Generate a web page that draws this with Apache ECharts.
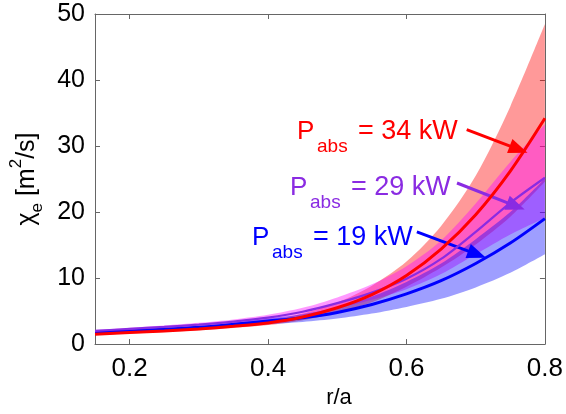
<!DOCTYPE html>
<html>
<head>
<meta charset="utf-8">
<script src="https://cdn.jsdelivr.net/npm/echarts@6/dist/echarts.min.js"></script>
<style>html,body{margin:0;padding:0;background:#fff}#c{width:566px;height:414px}</style>
</head>
<body>
<div id="c"></div>
<script>
// r/a sample positions
var xs = [0.15, 0.2, 0.25, 0.3, 0.35, 0.4, 0.45, 0.5, 0.55, 0.6, 0.65, 0.7, 0.75, 0.8];
// P_abs = 34 kW (red)
var redMid = [1.5, 1.75, 2.0, 2.3, 2.7, 3.2, 4.1, 5.5, 7.5, 10.4, 14.4, 19.6, 26.2, 34.2];
var redHi  = [1.6, 1.89, 2.16, 2.5, 2.97, 3.55, 4.63, 6.3, 8.85, 12.5, 17.9, 25.5, 36.0, 48.5];
var redLo  = [1.4, 1.62, 1.85, 2.11, 2.45, 2.88, 3.63, 4.8, 6.35, 8.7, 11.6, 15.1, 19.3, 24.6];
// P_abs = 29 kW (purple)
var purMid = [2.0, 2.3, 2.6, 2.95, 3.4, 4.0, 4.9, 6.2, 7.8, 9.9, 12.9, 17.0, 21.4, 25.2];
var purHi  = [2.14, 2.48, 2.81, 3.22, 3.74, 4.44, 5.49, 7.07, 9.05, 11.8, 15.7, 21.3, 27.6, 33.3];
var purLo  = [1.87, 2.13, 2.41, 2.71, 3.09, 3.6, 4.38, 5.44, 6.72, 8.32, 10.6, 13.6, 16.6, 19.1];
// P_abs = 19 kW (blue)
var bluMid = [1.8, 2.0, 2.25, 2.55, 3.0, 3.5, 4.0, 4.8, 6.0, 7.6, 9.6, 12.2, 15.3, 19.0];
var bluHi  = [1.93, 2.16, 2.43, 2.78, 3.3, 3.89, 4.52, 5.57, 7.2, 9.42, 12.2, 15.9, 20.0, 25.1];
var bluLo  = [1.67, 1.83, 2.05, 2.28, 2.63, 3.02, 3.36, 3.87, 4.62, 5.63, 6.86, 8.59, 10.8, 13.6];
// tick values
var xTicks = [0.2, 0.4, 0.6, 0.8];
var yTicks = [0, 10, 20, 30, 40, 50];
// arrow anchors in data space: [from, to]
var redArrow = [[0.687, 32.5], [0.762, 29.5]];
var purArrow = [[0.673, 24.4], [0.758, 20.9]];
var bluArrow = [[0.615, 17.0], [0.702, 13.6]];

var RED = '#ff0000', PUR = '#8a2be2', BLU = '#0000ff';
var FONT = 'Liberation Sans, Arial, sans-serif';

function pairs(a) { return xs.map(function (x, i) { return [x, a[i]]; }); }
function diff(h, l) { return h.map(function (v, i) { return v - l[i]; }); }

// bands are drawn on a hidden category axis whose categories are xs (evenly spaced, edge to edge)
function band(name, lo, hi, color) {
  return [
    { type: 'line', name: name + 'lo', stack: name, xAxisIndex: 2, data: lo.slice(), smooth: 0.3,
      showSymbol: false, symbol: 'none', lineStyle: { opacity: 0 }, silent: true },
    { type: 'line', name: name + 'band', stack: name, xAxisIndex: 2, data: diff(hi, lo), smooth: 0.3,
      showSymbol: false, symbol: 'none', lineStyle: { opacity: 0 },
      areaStyle: { color: color, opacity: 1 }, silent: true }
  ];
}

function line(name, mid, color, width, arrow) {
  return { type: 'line', name: name, xAxisIndex: 0, data: pairs(mid), smooth: 0.3, showSymbol: false, symbol: 'none',
    lineStyle: { color: color, width: width }, z: 5,
    markLine: { silent: true, symbol: ['none', 'triangle'], symbolSize: [15, 19], label: { show: false },
      lineStyle: { color: color, width: 3, type: 'solid' },
      data: [[{ coord: arrow[0] }, { coord: arrow[1] }]] } };
}

var series = []
  .concat(band('r', redLo, redHi, 'rgba(255,0,0,0.4)'))
  .concat(band('p', purLo, purHi, 'rgba(255,0,255,0.4)'))
  .concat(band('b', bluLo, bluHi, 'rgba(0,0,255,0.38)'))
  .concat([
    line('19 kW', bluMid, BLU, 3, bluArrow),
    line('29 kW', purMid, PUR, 2.2, purArrow),
    line('34 kW', redMid, RED, 3, redArrow)
  ]);

function ann(x, y, color, value) {
  return [
    { type: 'text', x: x, y: y, z: 100, style: { text: 'P', fill: color, font: '26px ' + FONT, verticalAlign: 'middle' } },
    { type: 'text', x: x + 20, y: y + 15, z: 100, style: { text: 'abs', fill: color, font: '19px ' + FONT, verticalAlign: 'middle' } },
    { type: 'text', x: x + 61, y: y, z: 100, style: { text: '= ' + value, fill: color, font: '27px ' + FONT, verticalAlign: 'middle' } }
  ];
}

var axisLineStyle = { color: '#666', width: 1 };
var chart = echarts.init(document.getElementById('c'), null, { renderer: 'canvas' });
chart.setOption({
  animation: false,
  backgroundColor: '#fff',
  grid: { left: 95, right: 18, top: 14, bottom: 51, show: false },
  xAxis: [
    { type: 'value', min: 0.15, max: 0.8, interval: 0.05, position: 'bottom',
      name: 'r/a', nameLocation: 'middle', nameGap: 27,
      nameTextStyle: { fontSize: 22, color: '#000', fontFamily: FONT, padding: [0, 0, 0, 38] },
      axisLine: { show: true, onZero: false, lineStyle: axisLineStyle },
      axisTick: { show: true, inside: true, length: 5, customValues: xTicks, lineStyle: axisLineStyle },
      axisLabel: { customValues: xTicks, fontSize: 26, color: '#000', fontFamily: FONT, margin: 12 },
      splitLine: { show: false } },
    { type: 'value', min: 0.15, max: 0.8, interval: 0.05, position: 'top',
      axisLine: { show: true, onZero: false, lineStyle: axisLineStyle },
      axisTick: { show: true, inside: true, length: 5, customValues: xTicks, lineStyle: axisLineStyle },
      axisLabel: { show: false }, splitLine: { show: false } },
    { type: 'category', data: xs.map(String), boundaryGap: false, show: false, position: 'bottom' }
  ],
  yAxis: [
    { type: 'value', min: 0, max: 50, interval: 10, position: 'left',
      name: '{n|χ}{sub|e}{n| [m}{sup|2}{n|/s]}', nameLocation: 'middle', nameGap: 47,
      nameTextStyle: { color: '#000', fontFamily: FONT,
        rich: {
          n: { fontSize: 25, lineHeight: 38, fontFamily: FONT, color: '#000' },
          sub: { fontSize: 17, lineHeight: 17, verticalAlign: 'bottom', fontFamily: FONT, color: '#000' },
          sup: { fontSize: 17, lineHeight: 17, verticalAlign: 'top', fontFamily: FONT, color: '#000' }
        } },
      axisLine: { show: true, onZero: false, lineStyle: axisLineStyle },
      axisTick: { show: true, inside: true, length: 5, customValues: yTicks, lineStyle: axisLineStyle },
      axisLabel: { customValues: yTicks, fontSize: 25, color: '#000', fontFamily: FONT, margin: 10 },
      splitLine: { show: false } },
    { type: 'value', min: 0, max: 50, interval: 10, position: 'right',
      axisLine: { show: true, onZero: false, lineStyle: axisLineStyle },
      axisTick: { show: true, inside: true, length: 5, customValues: yTicks, lineStyle: axisLineStyle },
      axisLabel: { show: false }, splitLine: { show: false } }
  ],
  series: series,
  graphic: [].concat(
    ann(297, 132, RED, '34 kW'),
    ann(290, 188, PUR, '29 kW'),
    ann(252, 238, BLU, '19 kW')
  )
});
</script>
</body>
</html>
